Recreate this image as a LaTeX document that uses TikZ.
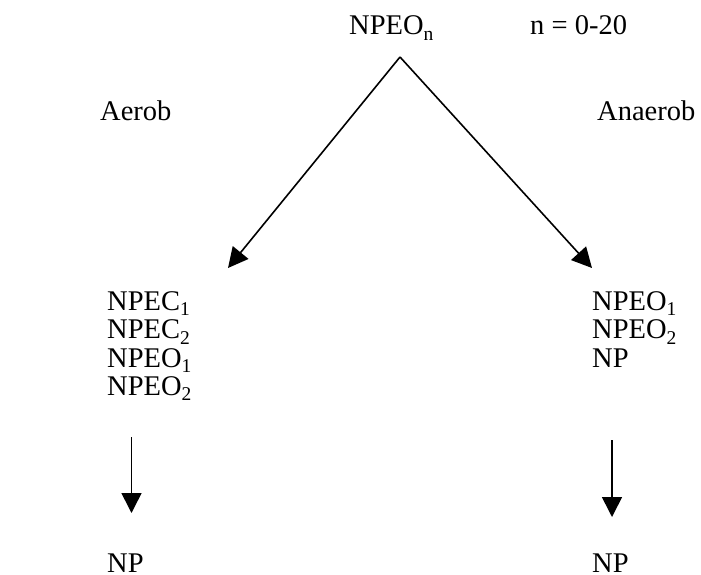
\documentclass[tikz,border=0pt]{standalone}
\usepackage{fontspec}
\setmainfont{Liberation Serif}
\usetikzlibrary{arrows.meta}
\newcommand{\mysub}[1]{\raisebox{-0.2em}{\fontsize{19.5}{19.5}\selectfont #1}}
\begin{document}
\begin{tikzpicture}[x=1pt,y=-1pt,
  lbl/.style={anchor=base west,inner sep=0pt,font=\fontsize{28.5}{29}\selectfont},
  arr/.style={line width=1.6pt,-{Triangle[length=20pt,width=20pt]}}]
\useasboundingbox (0,0) rectangle (701,575);
\node[lbl] (top) at (349,35) {NPEO\mysub{n}};
\node[lbl] (range) at (530,35) {n = 0-20};
\node[lbl] (aer) at (100,121) {Aerob};
\node[lbl] (anaer) at (597,121) {Anaerob};
\node[lbl] (l1) at (107,310) {NPEC\mysub{1}};
\node[lbl] (l2) at (107,338.5) {NPEC\mysub{2}};
\node[lbl] (l3) at (107,367) {NPEO\mysub{1}};
\node[lbl] (l4) at (107,395) {NPEO\mysub{2}};
\node[lbl] (r1) at (592,310) {NPEO\mysub{1}};
\node[lbl] (r2) at (592,338.5) {NPEO\mysub{2}};
\node[lbl] (r3) at (592,367) {NP};
\node[lbl] (lnp) at (107,572) {NP};
\node[lbl] (rnp) at (592,572) {NP};
\coordinate (apex) at (400,57);
\coordinate (ltip) at (228,268);
\coordinate (rtip) at (592,268);
\coordinate (lvs) at (131.5,437);
\coordinate (lve) at (131.5,513);
\coordinate (rvs) at (612,440);
\coordinate (rve) at (612,517);
\draw[arr] (apex) -- (ltip);
\draw[arr] (apex) -- (rtip);
\draw[arr] (lvs) -- (lve);
\draw[arr] (rvs) -- (rve);
\end{tikzpicture}
\end{document}
